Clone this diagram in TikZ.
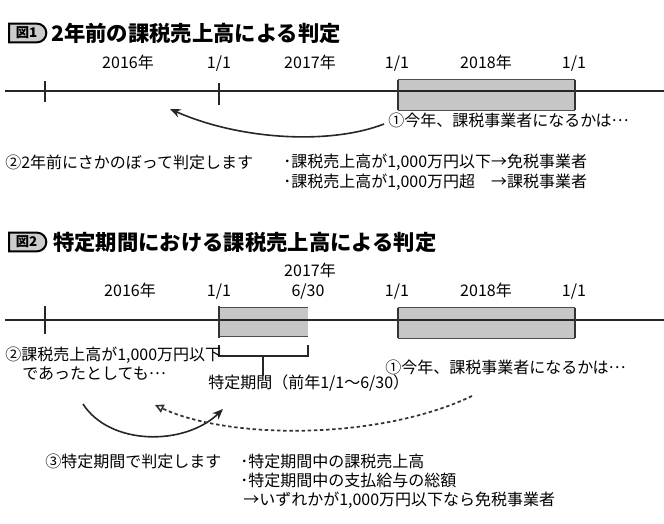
\documentclass[tikz,border=0pt]{standalone}
\usepackage{fontspec}
\newfontfamily\jp{Noto Sans CJK JP}
\usetikzlibrary{arrows.meta,shapes.misc}
\newcommand{\midell}{\raisebox{0.3em}{…}}
\begin{document}
\begin{tikzpicture}[x=0.75pt,y=-0.75pt,
  txt/.style={font=\jp\fontsize{12}{14.25}\selectfont, inner sep=0pt, text height=0.88em, text depth=0.12em},
  ttl/.style={font=\jp\bfseries\fontsize{16}{18}\selectfont, inner sep=0pt, anchor=west},
  badge/.style={rounded rectangle, rounded rectangle west arc=none, draw=black, line width=1.5pt, fill=gray!40, font=\jp\bfseries\fontsize{10}{11}\selectfont, inner sep=1.5pt, minimum height=14pt, minimum width=31pt, anchor=west},
  tline/.style={line width=1.3pt, black!85},
  tickmark/.style={line width=1.5pt, black!85},
  shadebox/.style={fill=gray!45, draw=none, inner sep=0pt},
  boxedge/.style={line width=1.5pt, black!80},
  boxrim/.style={line width=0.5pt, gray!60!black},
  curvearrow/.style={line width=1.2pt, black!85, -{Stealth[length=8pt,width=6.5pt]}},
  dotarrow/.style={line width=1.3pt, black!80, dash pattern=on 2.6pt off 2pt, -{Triangle[open,length=6.5pt,width=6.5pt,line width=1.2pt]}},
  bracket/.style={line width=0.9pt, black!85}
]
\useasboundingbox (0,0) rectangle (664,524);

% ---------------- Figure 1 ----------------
\node[badge] (b1) at (8,33) {図1};
\node[ttl] (t1) at (51,33) {2年前の課税売上高による判定};

\node[txt] (l1a) at (128,63) {2016年};
\node[txt] (l1b) at (219,63) {1/1};
\node[txt] (l1c) at (310,63) {2017年};
\node[txt] (l1d) at (397,63) {1/1};
\node[txt] (l1e) at (486,63) {2018年};
\node[txt] (l1f) at (574,63) {1/1};

\node[shadebox, minimum width=132.75pt, minimum height=22.5pt] (box1) at (486.5,95) {};
\draw[boxrim] (box1.north west) -- (box1.north east);
\draw[boxrim] (box1.south west) -- (box1.south east);

\coordinate (a0) at (5,91);
\coordinate (a1) at (664,91);
\draw[tline] (a0) -- (a1);

\coordinate (k1t) at (45,81); \coordinate (k1b) at (45,102);
\coordinate (k2t) at (219,83); \coordinate (k2b) at (219,105);
\draw[tickmark] (k1t) -- (k1b);
\draw[tickmark] (k2t) -- (k2b);
\draw[boxedge] (box1.north west) -- (box1.south west);
\draw[boxedge] (box1.north east) -- (box1.south east);

\node[txt, anchor=west] (q1) at (388,121) {①今年、課税事業者になるかは\midell};
\coordinate (arr1s) at (384,124);
\coordinate (arr1e) at (170,109);
\draw[curvearrow] (arr1s) .. controls (330,145) and (240,140) .. (arr1e);

\node[txt, anchor=west] (n2) at (5,163) {②2年前にさかのぼって判定します};
\node[txt, anchor=north west, text height=, text depth=] (bl1) at (283,154)
  {\begin{tabular}{@{}l@{}l@{}}･課税売上高が1,000万円以下&→免税事業者\\
   ･課税売上高が1,000万円超&→課税事業者\end{tabular}};

% ---------------- Figure 2 ----------------
\node[badge] (b2) at (8,242) {図2};
\node[ttl] (t2) at (53,242) {特定期間における課税売上高による判定};

\node[txt] (l2y) at (310,271) {2017年};
\node[txt] (l2a) at (130,291) {2016年};
\node[txt] (l2b) at (219,291) {1/1};
\node[txt] (l2c) at (308,291) {6/30};
\node[txt] (l2d) at (397,291) {1/1};
\node[txt] (l2e) at (486,291) {2018年};
\node[txt] (l2f) at (574,291) {1/1};

\node[shadebox, minimum width=66.75pt, minimum height=21pt] (box2) at (263.5,322) {};
\draw[boxrim] (box2.north west) -- (box2.north east);
\draw[boxrim] (box2.south west) -- (box2.south east);
\node[shadebox, minimum width=132.75pt, minimum height=22.5pt] (box3) at (486.5,323) {};
\draw[boxrim] (box3.north west) -- (box3.north east);
\draw[boxrim] (box3.south west) -- (box3.south east);

\coordinate (c0) at (5,320);
\coordinate (c1) at (664,320);
\draw[tline] (c0) -- (c1);

\coordinate (k3t) at (45,306); \coordinate (k3b) at (45,334);
\draw[tickmark] (k3t) -- (k3b);
\draw[boxedge] ([yshift=1pt]box2.north west) -- ([yshift=-1.5pt]box2.south west);
\draw[boxedge] (box3.north west) -- (box3.south west);
\draw[boxedge] (box3.north east) -- (box3.south east);

% bracket
\coordinate (brl) at (219,345);
\coordinate (brr) at (308,345);
\coordinate (bm) at (263,356);
\draw[bracket] (brl) -- (219,356) -- (308,356) -- (brr);
\node[txt, anchor=west] (tp) at (208,383) {特定期間（前年1/1～6/30）};
\draw[bracket] (bm) -- (bm |- tp.north);

\node[txt, anchor=west] (m1) at (5,355) {②課税売上高が1,000万円以下};
\node[txt, anchor=west] (m2) at (22,374) {であったとしても\midell};
\node[txt, anchor=west] (q2) at (385,368) {①今年、課税事業者になるかは\midell};

\coordinate (s0) at (83,404);
\coordinate (s1) at (223,409);
\draw[curvearrow] (s0) .. controls (110,446) and (185,446) .. (s1);

\coordinate (d0) at (472,396);
\coordinate (d1) at (155,405);
\draw[dotarrow] (d0) .. controls (380,440) and (230,440) .. (d1);

\node[txt, anchor=west] (r3) at (45,462) {③特定期間で判定します};
\node[txt, anchor=west] (p1) at (240,462) {･特定期間中の課税売上高};
\node[txt, anchor=west] (p2) at (240,481) {･特定期間中の支払給与の総額};
\node[txt, anchor=west] (p3) at (243,500) {→いずれかが1,000万円以下なら免税事業者};
\end{tikzpicture}
\end{document}
